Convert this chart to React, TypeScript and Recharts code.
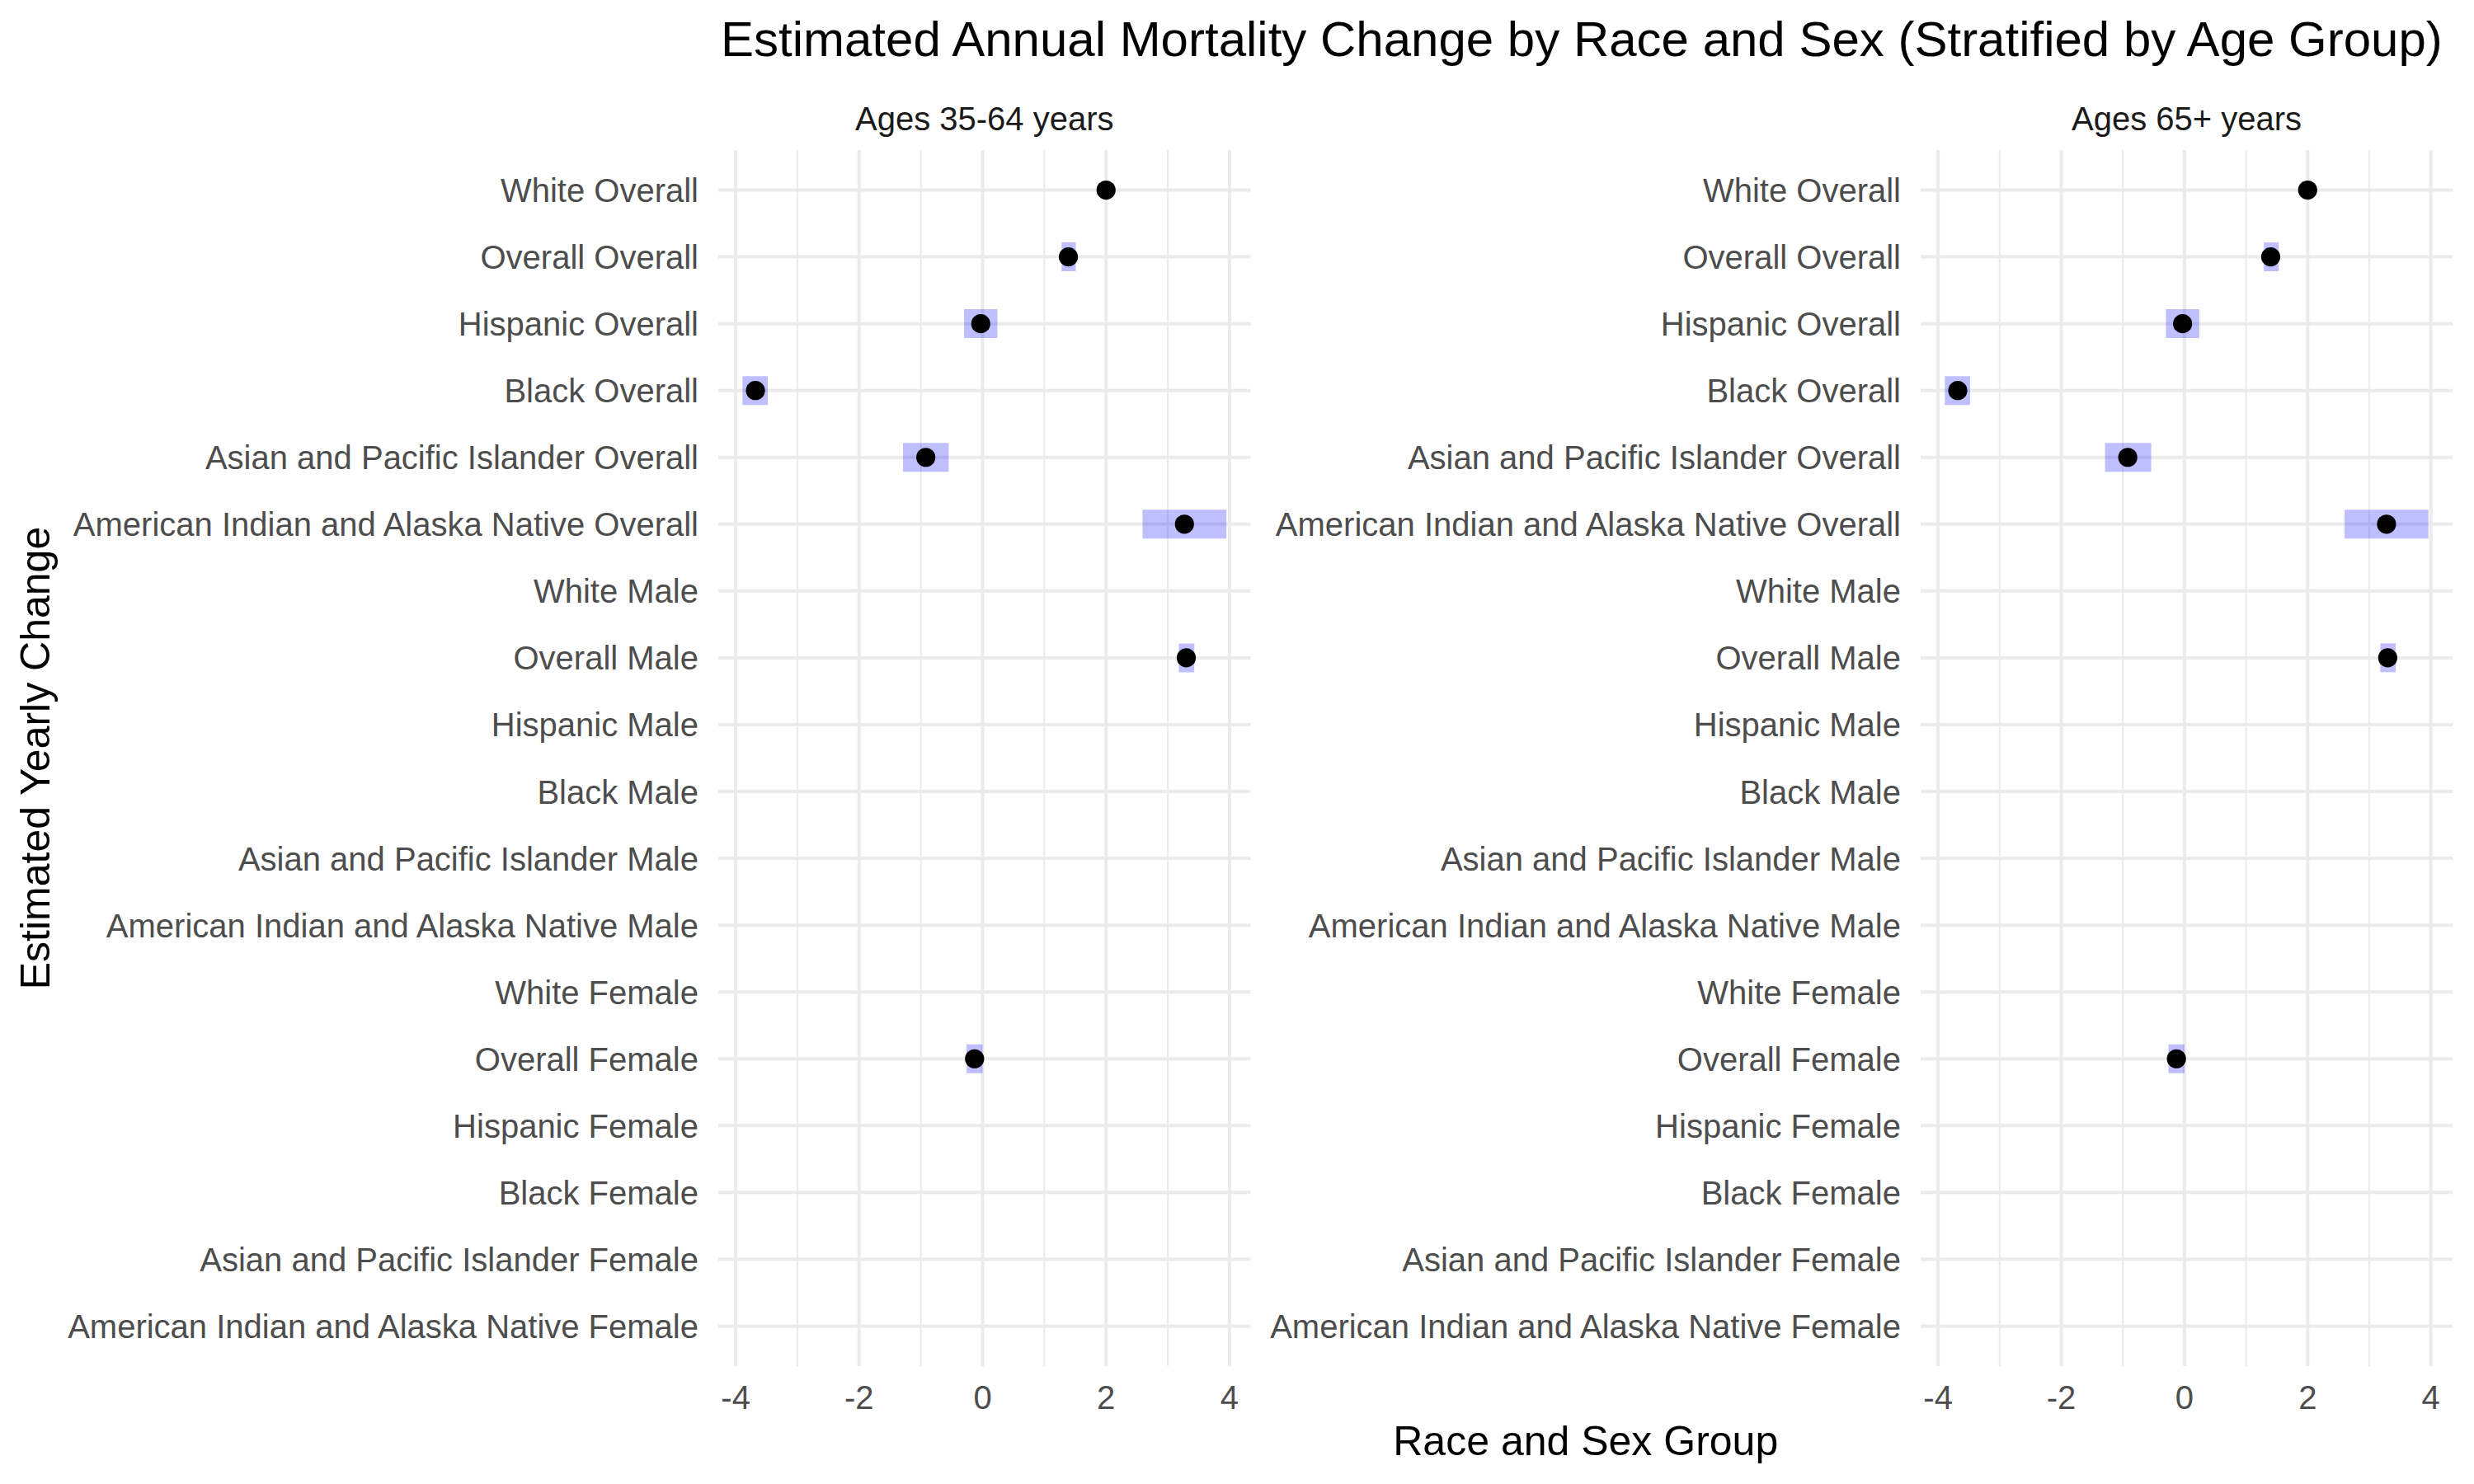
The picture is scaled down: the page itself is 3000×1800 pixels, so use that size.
import React from "react";
import {
  ComposedChart,
  Bar,
  Line,
  XAxis,
  YAxis,
  CartesianGrid,
} from "recharts";

// rows top to bottom, as in the picture
const groups = [
  "White Overall",
  "Overall Overall",
  "Hispanic Overall",
  "Black Overall",
  "Asian and Pacific Islander Overall",
  "American Indian and Alaska Native Overall",
  "White Male",
  "Overall Male",
  "Hispanic Male",
  "Black Male",
  "Asian and Pacific Islander Male",
  "American Indian and Alaska Native Male",
  "White Female",
  "Overall Female",
  "Hispanic Female",
  "Black Female",
  "Asian and Pacific Islander Female",
  "American Indian and Alaska Native Female",
];

// Ages 35-64 years
const est35 = [2.0, 1.39, -0.03, -3.68, -0.92, 3.27, null, 3.3, null, null, null, null, null, -0.13, null, null, null, null];
const lower35 = [null, 1.28, -0.3, -3.89, -1.29, 2.59, null, 3.18, null, null, null, null, null, -0.26, null, null, null, null];
const upper35 = [null, 1.51, 0.24, -3.48, -0.55, 3.95, null, 3.43, null, null, null, null, null, 0.0, null, null, null, null];

// Ages 65+ years
const est65 = [2.0, 1.4, -0.03, -3.68, -0.92, 3.28, null, 3.3, null, null, null, null, null, -0.13, null, null, null, null];
const lower65 = [null, 1.29, -0.3, -3.89, -1.29, 2.6, null, 3.18, null, null, null, null, null, -0.26, null, null, null, null];
const upper65 = [null, 1.53, 0.24, -3.48, -0.54, 3.96, null, 3.43, null, null, null, null, null, 0.0, null, null, null, null];

const majorTicks = [-4, -2, 0, 2, 4];
const minorTicks = [-3, -1, 1, 3];

const FONT = '"Liberation Sans", Arial, Helvetica, sans-serif';

type Num = number | null;

function buildRows(est: Num[], lo: Num[], hi: Num[]) {
  return groups.map((g, i) => ({
    group: g,
    est: est[i],
    ci: lo[i] != null && hi[i] != null ? [lo[i], hi[i]] : null,
  }));
}

// ggplot-style 5% expansion of the data range
function expandedDomain(...lists: Num[][]): [number, number] {
  const vals = lists.flat().filter((v): v is number => v != null);
  const min = Math.min(...vals);
  const max = Math.max(...vals);
  const pad = (max - min) * 0.05;
  return [min - pad, max + pad];
}

const renderYTick = (p: any) => (
  <text x={p.x} y={p.y} dy={14.5} textAnchor="end" fill="#4D4D4D" fontSize={40} fontFamily={FONT}>
    {p.payload.value}
  </text>
);

const renderXTick = (p: any) => (
  <text x={p.x} y={p.y} dy={28} textAnchor="middle" fill="#4D4D4D" fontSize={40} fontFamily={FONT}>
    {p.payload.value}
  </text>
);

interface PanelProps {
  left: number;
  width: number;
  axisWidth: number;
  rightMargin: number;
  rows: any[];
  domain: [number, number];
}

function Panel({ left, width, axisWidth, rightMargin, rows, domain }: PanelProps) {
  return (
    <div style={{ position: "absolute", left, top: 0 }}>
      <ComposedChart
        layout="vertical"
        width={width}
        height={1800}
        data={rows}
        margin={{ top: 182, right: rightMargin, bottom: 0, left: 0 }}
      >
        <CartesianGrid stroke="#EBEBEB" strokeWidth={4} syncWithTicks />
        <CartesianGrid xAxisId="minor" stroke="#EBEBEB" strokeWidth={2} horizontal={false} syncWithTicks />
        <XAxis
          type="number"
          domain={domain}
          ticks={majorTicks}
          allowDataOverflow
          height={143}
          tickSize={0}
          tickMargin={24}
          axisLine={false}
          tickLine={false}
          tick={renderXTick}
        />
        <XAxis xAxisId="minor" type="number" domain={domain} ticks={minorTicks} allowDataOverflow hide />
        <YAxis
          type="category"
          dataKey="group"
          width={axisWidth}
          padding={{ top: 8, bottom: 8 }}
          interval={0}
          tickSize={0}
          tickMargin={24}
          axisLine={false}
          tickLine={false}
          tick={renderYTick}
        />
        <Bar dataKey="ci" barSize={35} fill="#0000FF" fillOpacity={0.25} isAnimationActive={false} />
        <Line
          dataKey="est"
          stroke="none"
          dot={{ r: 11.6, fill: "#000000", stroke: "none" }}
          activeDot={false}
          isAnimationActive={false}
        />
      </ComposedChart>
    </div>
  );
}

export default function App() {
  const rows35 = buildRows(est35, lower35, upper35);
  const rows65 = buildRows(est65, lower65, upper65);
  const domain35 = expandedDomain(lower35, upper35, est35);
  const domain65 = expandedDomain(lower65, upper65, est65);

  return (
    <div
      style={{
        position: "absolute",
        left: 0,
        top: 0,
        width: 3000,
        height: 1800,
        background: "#ffffff",
        overflow: "hidden",
      }}
    >
      <Panel left={0} width={1530} axisWidth={871} rightMargin={13.5} rows={rows35} domain={domain35} />
      <Panel left={1530} width={1470} axisWidth={799} rightMargin={26} rows={rows65} domain={domain65} />

      {/* titles and strip labels */}
      <svg
        width={3000}
        height={1800}
        style={{ position: "absolute", left: 0, top: 0, pointerEvents: "none" }}
        fontFamily={FONT}
      >
        <text x={874} y={68} fontSize={60} fill="#000000">
          Estimated Annual Mortality Change by Race and Sex (Stratified by Age Group)
        </text>
        <text x={1193.75} y={158} fontSize={40} fill="#1A1A1A" textAnchor="middle">
          Ages 35-64 years
        </text>
        <text x={2651.5} y={158} fontSize={40} fill="#1A1A1A" textAnchor="middle">
          Ages 65+ years
        </text>
        <text x={1922.75} y={1765} fontSize={50} fill="#000000" textAnchor="middle">
          Race and Sex Group
        </text>
        <text transform="translate(60,919.5) rotate(-90)" fontSize={50} fill="#000000" textAnchor="middle">
          Estimated Yearly Change
        </text>
      </svg>
    </div>
  );
}
